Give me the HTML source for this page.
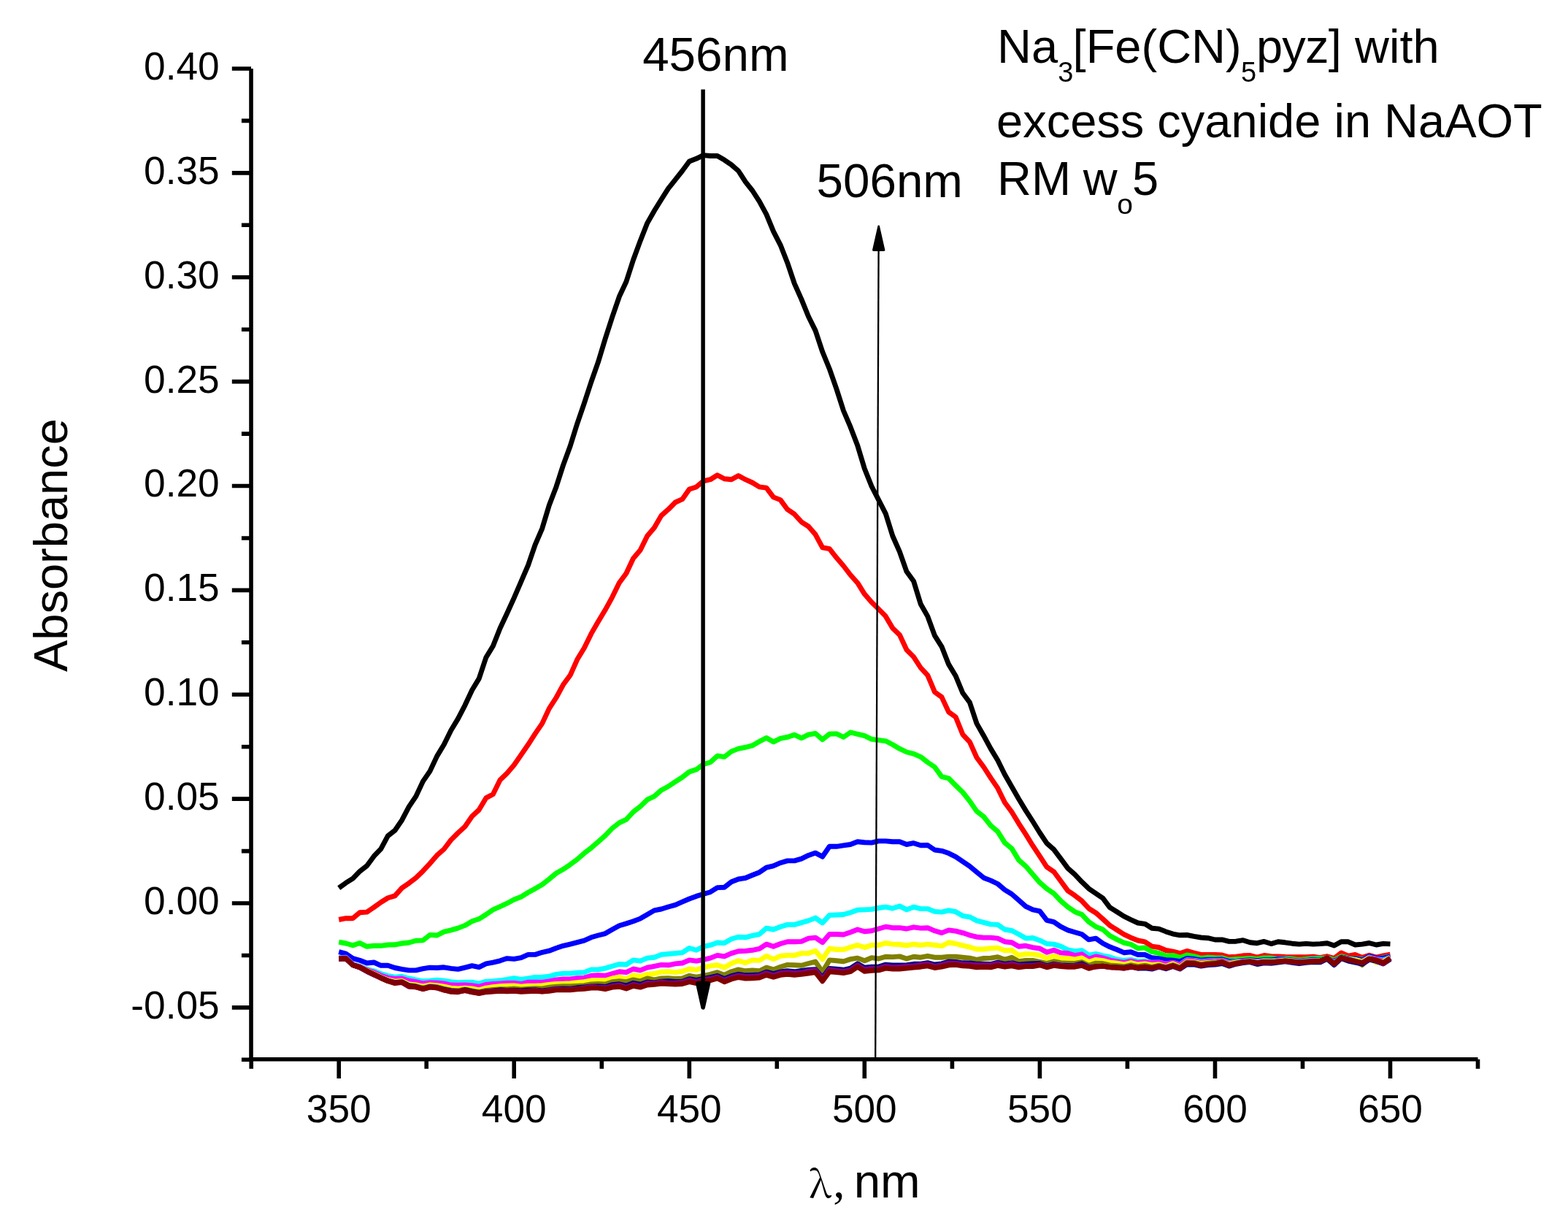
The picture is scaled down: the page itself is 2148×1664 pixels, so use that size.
<!DOCTYPE html>
<html lang="en"><head><meta charset="utf-8"><title>Absorbance spectra</title>
<style>
html,body{margin:0;padding:0;background:#fff}
body{width:2148px;height:1664px;overflow:hidden}
svg{display:block}
text{font-family:"Liberation Sans",Arial,Helvetica,sans-serif;fill:#000}
.tk{font-size:53.2px}
.big{font-size:65px}
.sym{font-family:"Liberation Serif","Times New Roman",serif}
.ax{stroke:#000;stroke-width:5.6;fill:none;stroke-linecap:butt}
.cv{fill:none;stroke-width:6.9;stroke-linejoin:round;stroke-linecap:butt}
</style></head>
<body>
<svg xmlns="http://www.w3.org/2000/svg" width="2148" height="1664" viewBox="0 0 2148 1664">
<rect width="2148" height="1664" fill="#fff"/>
<g id="curves">
<path class="cv" stroke="#000000" d="M464.2,1216.1 L473.8,1209.2 L483.4,1203.1 L493.0,1193.2 L502.6,1185.8 L512.2,1172.7 L521.8,1162.7 L531.4,1144.7 L541.0,1137.2 L550.6,1123.2 L560.2,1104.9 L569.8,1090.6 L579.4,1070.1 L589.0,1056.1 L598.6,1035.6 L608.2,1019.8 L617.8,1000.2 L627.4,984.4 L637.0,965.8 L646.6,945.3 L656.2,929.4 L665.8,900.5 L675.4,884.7 L685.0,860.5 L694.6,840.0 L704.2,818.8 L713.9,796.4 L723.5,774.1 L733.1,746.1 L742.7,723.8 L752.3,692.1 L761.9,666.9 L771.5,637.1 L781.1,611.0 L790.7,580.3 L800.3,552.4 L809.9,523.0 L819.5,495.7 L829.1,464.1 L838.7,434.3 L848.3,406.3 L857.9,385.8 L867.5,356.0 L877.1,329.9 L886.7,305.6 L896.3,288.8 L905.9,273.2 L915.5,258.2 L925.1,246.1 L934.7,234.0 L944.3,221.0 L953.9,217.3 L963.5,212.6 L973.1,213.5 L982.7,213.5 L992.3,219.1 L1001.9,225.6 L1011.5,234.0 L1021.1,248.9 L1030.7,261.0 L1040.3,275.9 L1049.9,293.6 L1059.5,316.9 L1069.1,335.6 L1078.7,359.9 L1088.3,388.4 L1097.9,409.9 L1107.5,433.5 L1117.1,452.9 L1126.7,481.8 L1136.3,505.2 L1145.9,532.6 L1155.5,562.5 L1165.1,584.9 L1174.7,610.1 L1184.3,641.8 L1194.0,666.0 L1203.6,684.6 L1213.2,703.3 L1222.8,734.0 L1232.4,755.7 L1242.0,782.8 L1251.6,796.0 L1261.2,827.2 L1270.8,844.1 L1280.4,870.4 L1290.0,885.6 L1299.6,909.9 L1309.2,925.7 L1318.8,949.0 L1328.4,962.0 L1338.0,990.9 L1347.6,1007.7 L1357.2,1025.4 L1366.8,1041.2 L1376.4,1060.8 L1386.0,1077.5 L1395.6,1094.3 L1405.2,1110.1 L1414.8,1125.0 L1424.4,1140.5 L1434.0,1154.9 L1443.6,1163.4 L1453.2,1176.1 L1462.8,1189.1 L1472.4,1197.6 L1482.0,1207.8 L1491.6,1217.1 L1501.2,1223.6 L1510.8,1230.1 L1520.4,1242.8 L1530.0,1248.8 L1539.6,1254.9 L1549.2,1259.6 L1558.8,1264.0 L1568.4,1265.3 L1578.0,1271.2 L1587.6,1272.1 L1597.2,1275.9 L1606.8,1279.1 L1616.4,1280.8 L1626.0,1280.5 L1635.6,1282.4 L1645.2,1284.0 L1654.8,1284.7 L1664.5,1287.0 L1674.1,1286.9 L1683.7,1289.4 L1693.3,1289.2 L1702.9,1287.7 L1712.5,1290.8 L1722.1,1291.7 L1731.7,1289.4 L1741.3,1292.6 L1750.9,1289.8 L1760.5,1290.8 L1770.1,1292.2 L1779.7,1293.1 L1789.3,1292.4 L1798.9,1293.1 L1808.5,1292.6 L1818.1,1291.7 L1827.7,1295.0 L1837.3,1289.8 L1846.9,1289.8 L1856.5,1294.0 L1866.1,1293.1 L1875.7,1291.5 L1885.3,1294.0 L1894.9,1292.4 L1904.5,1292.9"/>
<path class="cv" stroke="#ff0000" d="M464.2,1259.5 L473.8,1257.7 L483.4,1257.7 L493.0,1249.7 L502.6,1249.1 L512.2,1242.6 L521.8,1235.7 L531.4,1229.7 L541.0,1226.9 L550.6,1216.1 L560.2,1209.6 L569.8,1202.2 L579.4,1192.9 L589.0,1182.6 L598.6,1171.4 L608.2,1163.0 L617.8,1150.4 L627.4,1140.8 L637.0,1132.0 L646.6,1118.0 L656.2,1109.1 L665.8,1092.9 L675.4,1087.8 L685.0,1068.2 L694.6,1058.9 L704.2,1047.7 L713.9,1033.8 L723.5,1019.8 L733.1,1004.9 L742.7,990.9 L752.3,970.4 L761.9,955.5 L771.5,937.8 L781.1,924.8 L790.7,903.3 L800.3,887.5 L809.9,867.9 L819.5,851.2 L829.1,835.3 L838.7,817.8 L848.3,798.3 L857.9,785.2 L867.5,764.7 L877.1,753.6 L886.7,734.0 L896.3,722.8 L905.9,706.1 L915.5,697.7 L925.1,688.0 L934.7,683.7 L944.3,670.1 L953.9,666.9 L963.5,658.9 L973.1,656.7 L982.7,650.7 L992.3,655.8 L1001.9,656.7 L1011.5,651.5 L1021.1,656.7 L1030.7,661.0 L1040.3,666.9 L1049.9,668.2 L1059.5,680.9 L1069.1,684.6 L1078.7,697.7 L1088.3,704.2 L1097.9,714.8 L1107.5,721.0 L1117.1,732.1 L1126.7,749.8 L1136.3,751.7 L1145.9,763.8 L1155.5,775.0 L1165.1,787.5 L1174.7,798.2 L1184.3,813.6 L1194.0,824.7 L1203.6,834.1 L1213.2,843.9 L1222.8,860.3 L1232.4,869.5 L1242.0,890.0 L1251.6,899.6 L1261.2,914.5 L1270.8,924.8 L1280.4,947.7 L1290.0,954.6 L1299.6,975.1 L1309.2,982.0 L1318.8,1005.8 L1328.4,1016.1 L1338.0,1037.5 L1347.6,1050.5 L1357.2,1065.4 L1366.8,1079.4 L1376.4,1099.0 L1386.0,1112.0 L1395.6,1127.8 L1405.2,1142.7 L1414.8,1158.2 L1424.4,1172.7 L1434.0,1187.3 L1443.6,1193.8 L1453.2,1206.8 L1462.8,1219.9 L1472.4,1226.4 L1482.0,1233.8 L1491.6,1244.2 L1501.2,1250.2 L1510.8,1258.6 L1520.4,1267.5 L1530.0,1273.5 L1539.6,1279.6 L1549.2,1284.2 L1558.8,1288.0 L1568.4,1289.8 L1578.0,1296.1 L1587.6,1297.5 L1597.2,1301.5 L1606.8,1303.1 L1616.4,1305.7 L1626.0,1302.4 L1635.6,1305.0 L1645.2,1307.4 L1654.8,1307.4 L1664.5,1307.4 L1674.1,1308.0 L1683.7,1310.8 L1693.3,1310.2 L1702.9,1308.8 L1712.5,1308.5 L1722.1,1311.1 L1731.7,1308.5 L1741.3,1309.7 L1750.9,1309.9 L1760.5,1310.5 L1770.1,1310.8 L1779.7,1310.8 L1789.3,1310.8 L1798.9,1310.2 L1808.5,1311.6 L1818.1,1309.7 L1827.7,1312.5 L1837.3,1305.0 L1846.9,1309.2 L1856.5,1307.5 L1866.1,1311.4 L1875.7,1308.3 L1885.3,1311.1 L1894.9,1308.9 L1904.5,1307.2"/>
<path class="cv" stroke="#00ff00" d="M464.2,1290.1 L473.8,1292.0 L483.4,1294.8 L493.0,1291.6 L502.6,1296.3 L512.2,1295.3 L521.8,1295.3 L531.4,1294.0 L541.0,1293.8 L550.6,1292.0 L560.2,1291.0 L569.8,1288.2 L579.4,1287.9 L589.0,1280.4 L598.6,1281.0 L608.2,1276.1 L617.8,1273.9 L627.4,1271.1 L637.0,1267.4 L646.6,1261.8 L656.2,1258.6 L665.8,1252.5 L675.4,1245.9 L685.0,1241.7 L694.6,1237.2 L704.2,1232.0 L713.9,1228.2 L723.5,1222.3 L733.1,1217.1 L742.7,1211.5 L752.3,1204.0 L761.9,1196.0 L771.5,1190.6 L781.1,1184.1 L790.7,1177.0 L800.3,1168.6 L809.9,1161.2 L819.5,1152.8 L829.1,1144.3 L838.7,1134.4 L848.3,1126.9 L857.9,1122.3 L867.5,1112.0 L877.1,1104.6 L886.7,1095.2 L896.3,1090.6 L905.9,1082.2 L915.5,1077.0 L925.1,1070.6 L934.7,1064.5 L944.3,1057.0 L953.9,1053.9 L963.5,1046.8 L973.1,1044.0 L982.7,1035.2 L992.3,1036.6 L1001.9,1029.1 L1011.5,1025.4 L1021.1,1023.5 L1030.7,1021.1 L1040.3,1015.5 L1049.9,1010.5 L1059.5,1016.1 L1069.1,1011.4 L1078.7,1009.5 L1088.3,1006.4 L1097.9,1010.8 L1107.5,1006.2 L1117.1,1004.5 L1126.7,1012.9 L1136.3,1005.3 L1145.9,1004.9 L1155.5,1009.5 L1165.1,1003.0 L1174.7,1005.4 L1184.3,1007.7 L1194.0,1012.3 L1203.6,1013.6 L1213.2,1014.8 L1222.8,1019.8 L1232.4,1025.4 L1242.0,1030.0 L1251.6,1032.3 L1261.2,1036.6 L1270.8,1044.0 L1280.4,1050.5 L1290.0,1063.6 L1299.6,1066.0 L1309.2,1075.7 L1318.8,1085.0 L1328.4,1097.1 L1338.0,1111.1 L1347.6,1118.5 L1357.2,1130.6 L1366.8,1138.8 L1376.4,1154.1 L1386.0,1162.1 L1395.6,1177.9 L1405.2,1186.3 L1414.8,1197.5 L1424.4,1208.7 L1434.0,1217.1 L1443.6,1223.6 L1453.2,1233.8 L1462.8,1242.2 L1472.4,1248.7 L1482.0,1252.5 L1491.6,1262.7 L1501.2,1269.2 L1510.8,1273.0 L1520.4,1281.5 L1530.0,1286.6 L1539.6,1291.2 L1549.2,1293.3 L1558.8,1298.7 L1568.4,1297.9 L1578.0,1303.4 L1587.6,1305.4 L1597.2,1308.9 L1606.8,1308.4 L1616.4,1311.4 L1626.0,1308.0 L1635.6,1309.6 L1645.2,1312.4 L1654.8,1311.2 L1664.5,1311.7 L1674.1,1311.9 L1683.7,1314.7 L1693.3,1313.8 L1702.9,1313.3 L1712.5,1312.4 L1722.1,1313.6 L1731.7,1311.9 L1741.3,1311.9 L1750.9,1313.3 L1760.5,1312.7 L1770.1,1313.3 L1779.7,1314.7 L1789.3,1313.6 L1798.9,1312.7 L1808.5,1312.7 L1818.1,1311.6 L1827.7,1315.0 L1837.3,1309.7 L1846.9,1312.2 L1856.5,1312.7 L1866.1,1314.1 L1875.7,1311.0 L1885.3,1312.7 L1894.9,1311.6 L1904.5,1310.0"/>
<path class="cv" stroke="#0000ff" d="M464.2,1303.7 L473.8,1306.1 L483.4,1312.6 L493.0,1315.3 L502.6,1319.0 L512.2,1318.0 L521.8,1322.3 L531.4,1322.3 L541.0,1325.5 L550.6,1327.4 L560.2,1328.9 L569.8,1328.9 L579.4,1326.6 L589.0,1325.1 L598.6,1325.5 L608.2,1324.8 L617.8,1326.4 L627.4,1327.4 L637.0,1325.1 L646.6,1322.7 L656.2,1324.6 L665.8,1319.9 L675.4,1318.2 L685.0,1315.8 L694.6,1312.6 L704.2,1313.4 L713.9,1311.7 L723.5,1307.4 L733.1,1307.4 L742.7,1304.3 L752.3,1302.2 L761.9,1298.5 L771.5,1295.3 L781.1,1293.1 L790.7,1290.7 L800.3,1288.2 L809.9,1283.8 L819.5,1281.0 L829.1,1278.6 L838.7,1273.0 L848.3,1267.7 L857.9,1264.9 L867.5,1261.8 L877.1,1258.1 L886.7,1252.6 L896.3,1246.9 L905.9,1245.0 L915.5,1242.0 L925.1,1239.4 L934.7,1235.1 L944.3,1231.0 L953.9,1227.4 L963.5,1224.5 L973.1,1221.7 L982.7,1215.6 L992.3,1215.2 L1001.9,1207.8 L1011.5,1204.0 L1021.1,1202.5 L1030.7,1198.5 L1040.3,1194.7 L1049.9,1188.2 L1059.5,1185.8 L1069.1,1181.7 L1078.7,1178.9 L1088.3,1178.9 L1097.9,1176.1 L1107.5,1171.4 L1117.1,1168.1 L1126.7,1173.3 L1136.3,1159.3 L1145.9,1159.3 L1155.5,1157.9 L1165.1,1156.5 L1174.7,1152.8 L1184.3,1153.7 L1194.0,1154.1 L1203.6,1151.9 L1213.2,1151.9 L1222.8,1152.8 L1232.4,1152.8 L1242.0,1156.5 L1251.6,1154.7 L1261.2,1157.8 L1270.8,1157.5 L1280.4,1164.0 L1290.0,1165.3 L1299.6,1168.6 L1309.2,1173.3 L1318.8,1179.8 L1328.4,1186.3 L1338.0,1194.3 L1347.6,1202.2 L1357.2,1205.9 L1366.8,1210.5 L1376.4,1218.6 L1386.0,1224.5 L1395.6,1232.9 L1405.2,1241.3 L1414.8,1245.9 L1424.4,1247.8 L1434.0,1260.3 L1443.6,1262.7 L1453.2,1269.2 L1462.8,1273.9 L1472.4,1276.7 L1482.0,1279.5 L1491.6,1286.9 L1501.2,1285.1 L1510.8,1292.0 L1520.4,1296.8 L1530.0,1300.5 L1539.6,1304.7 L1549.2,1303.8 L1558.8,1307.5 L1568.4,1307.5 L1578.0,1311.8 L1587.6,1312.8 L1597.2,1314.7 L1606.8,1315.2 L1616.4,1316.6 L1626.0,1312.4 L1635.6,1313.3 L1645.2,1315.2 L1654.8,1314.2 L1664.5,1314.2 L1674.1,1313.8 L1683.7,1316.6 L1693.3,1316.4 L1702.9,1315.5 L1712.5,1314.7 L1722.1,1315.5 L1731.7,1314.7 L1741.3,1314.7 L1750.9,1313.8 L1760.5,1313.8 L1770.1,1315.0 L1779.7,1316.1 L1789.3,1315.2 L1798.9,1314.1 L1808.5,1314.7 L1818.1,1312.7 L1827.7,1316.6 L1837.3,1311.0 L1846.9,1312.7 L1856.5,1313.0 L1866.1,1315.0 L1875.7,1309.6 L1885.3,1312.2 L1894.9,1312.2 L1904.5,1310.0"/>
<path class="cv" stroke="#00ffff" d="M464.2,1311.7 L473.8,1311.3 L483.4,1320.5 L493.0,1323.3 L502.6,1327.4 L512.2,1329.8 L521.8,1333.5 L531.4,1336.3 L541.0,1338.2 L550.6,1337.2 L560.2,1340.0 L569.8,1341.9 L579.4,1343.8 L589.0,1343.2 L598.6,1342.3 L608.2,1343.2 L617.8,1344.7 L627.4,1345.6 L637.0,1345.1 L646.6,1345.2 L656.2,1347.1 L665.8,1344.1 L675.4,1343.8 L685.0,1342.8 L694.6,1341.5 L704.2,1339.7 L713.9,1341.3 L723.5,1340.0 L733.1,1338.5 L742.7,1338.2 L752.3,1337.2 L761.9,1334.4 L771.5,1333.1 L781.1,1333.1 L790.7,1332.2 L800.3,1331.6 L809.9,1327.9 L819.5,1327.9 L829.1,1326.1 L838.7,1323.3 L848.3,1320.5 L857.9,1321.0 L867.5,1314.9 L877.1,1316.2 L886.7,1312.1 L896.3,1311.2 L905.9,1307.4 L915.5,1306.5 L925.1,1305.6 L934.7,1304.6 L944.3,1298.5 L953.9,1301.3 L963.5,1296.3 L973.1,1294.4 L982.7,1291.0 L992.3,1291.6 L1001.9,1286.0 L1011.5,1283.2 L1021.1,1283.8 L1030.7,1281.3 L1040.3,1279.5 L1049.9,1271.1 L1059.5,1273.0 L1069.1,1269.2 L1078.7,1266.4 L1088.3,1266.4 L1097.9,1263.6 L1107.5,1260.9 L1117.1,1257.1 L1126.7,1264.0 L1136.3,1253.4 L1145.9,1253.0 L1155.5,1252.5 L1165.1,1249.7 L1174.7,1246.3 L1184.3,1245.9 L1194.0,1245.4 L1203.6,1243.5 L1213.2,1242.2 L1222.8,1244.1 L1232.4,1240.9 L1242.0,1245.9 L1251.6,1242.2 L1261.2,1244.6 L1270.8,1244.6 L1280.4,1248.4 L1290.0,1249.1 L1299.6,1246.9 L1309.2,1248.7 L1318.8,1254.3 L1328.4,1255.8 L1338.0,1260.9 L1347.6,1263.3 L1357.2,1265.9 L1366.8,1266.4 L1376.4,1273.0 L1386.0,1274.5 L1395.6,1279.5 L1405.2,1285.1 L1414.8,1284.5 L1424.4,1287.9 L1434.0,1292.5 L1443.6,1293.1 L1453.2,1296.1 L1462.8,1300.8 L1472.4,1302.6 L1482.0,1301.7 L1491.6,1308.2 L1501.2,1306.4 L1510.8,1308.8 L1520.4,1310.7 L1530.0,1313.9 L1539.6,1315.3 L1549.2,1314.4 L1558.8,1316.7 L1568.4,1316.3 L1578.0,1318.3 L1587.6,1317.9 L1597.2,1320.2 L1606.8,1318.3 L1616.4,1321.1 L1626.0,1314.6 L1635.6,1315.1 L1645.2,1316.9 L1654.8,1316.0 L1664.5,1315.5 L1674.1,1315.1 L1683.7,1318.3 L1693.3,1317.0 L1702.9,1316.4 L1712.5,1315.6 L1722.1,1316.8 L1731.7,1315.8 L1741.3,1315.9 L1750.9,1315.2 L1760.5,1314.6 L1770.1,1315.7 L1779.7,1316.9 L1789.3,1316.0 L1798.9,1315.2 L1808.5,1315.3 L1818.1,1312.5 L1827.7,1318.0 L1837.3,1311.3 L1846.9,1313.4 L1856.5,1314.4 L1866.1,1316.5 L1875.7,1311.0 L1885.3,1313.3 L1894.9,1315.0 L1904.5,1311.1"/>
<path class="cv" stroke="#ff00ff" d="M464.2,1312.1 L473.8,1311.7 L483.4,1321.0 L493.0,1323.8 L502.6,1328.5 L512.2,1331.6 L521.8,1335.9 L531.4,1339.1 L541.0,1340.4 L550.6,1340.0 L560.2,1343.2 L569.8,1344.7 L579.4,1346.9 L589.0,1345.6 L598.6,1346.0 L608.2,1346.9 L617.8,1349.0 L627.4,1349.3 L637.0,1349.0 L646.6,1349.7 L656.2,1351.2 L665.8,1348.4 L675.4,1347.5 L685.0,1346.9 L694.6,1346.2 L704.2,1346.2 L713.9,1347.5 L723.5,1345.2 L733.1,1345.2 L742.7,1345.2 L752.3,1343.8 L761.9,1341.9 L771.5,1341.0 L781.1,1341.0 L790.7,1339.7 L800.3,1339.1 L809.9,1336.3 L819.5,1335.7 L829.1,1336.3 L838.7,1333.5 L848.3,1330.7 L857.9,1331.6 L867.5,1327.0 L877.1,1328.9 L886.7,1325.1 L896.3,1323.3 L905.9,1321.4 L915.5,1321.8 L925.1,1319.9 L934.7,1319.0 L944.3,1314.9 L953.9,1316.2 L963.5,1314.3 L973.1,1312.1 L982.7,1308.4 L992.3,1309.9 L1001.9,1305.6 L1011.5,1302.8 L1021.1,1302.4 L1030.7,1301.3 L1040.3,1299.4 L1049.9,1293.1 L1059.5,1296.3 L1069.1,1292.5 L1078.7,1289.7 L1088.3,1289.7 L1097.9,1289.4 L1107.5,1285.1 L1117.1,1284.1 L1126.7,1290.7 L1136.3,1279.5 L1145.9,1279.5 L1155.5,1280.0 L1165.1,1276.7 L1174.7,1273.0 L1184.3,1275.8 L1194.0,1274.8 L1203.6,1272.0 L1213.2,1269.2 L1222.8,1270.7 L1232.4,1270.7 L1242.0,1272.0 L1251.6,1269.8 L1261.2,1271.1 L1270.8,1270.7 L1280.4,1274.8 L1290.0,1277.6 L1299.6,1273.9 L1309.2,1275.2 L1318.8,1277.6 L1328.4,1280.8 L1338.0,1283.2 L1347.6,1284.1 L1357.2,1284.1 L1366.8,1285.1 L1376.4,1289.7 L1386.0,1290.7 L1395.6,1296.3 L1405.2,1295.3 L1414.8,1297.6 L1424.4,1299.0 L1434.0,1304.3 L1443.6,1301.3 L1453.2,1304.9 L1462.8,1305.5 L1472.4,1308.6 L1482.0,1306.8 L1491.6,1313.3 L1501.2,1309.9 L1510.8,1311.8 L1520.4,1314.8 L1530.0,1316.7 L1539.6,1318.1 L1549.2,1316.2 L1558.8,1318.5 L1568.4,1317.6 L1578.0,1318.6 L1587.6,1318.1 L1597.2,1320.2 L1606.8,1318.3 L1616.4,1321.4 L1626.0,1315.3 L1635.6,1315.8 L1645.2,1317.7 L1654.8,1316.7 L1664.5,1316.1 L1674.1,1315.5 L1683.7,1319.1 L1693.3,1317.5 L1702.9,1316.8 L1712.5,1315.9 L1722.1,1317.3 L1731.7,1316.2 L1741.3,1316.4 L1750.9,1315.7 L1760.5,1315.0 L1770.1,1316.0 L1779.7,1317.2 L1789.3,1316.4 L1798.9,1315.6 L1808.5,1315.5 L1818.1,1312.4 L1827.7,1318.5 L1837.3,1311.4 L1846.9,1313.7 L1856.5,1314.9 L1866.1,1317.0 L1875.7,1311.5 L1885.3,1313.7 L1894.9,1316.0 L1904.5,1311.5"/>
<path class="cv" stroke="#ffff00" d="M464.2,1312.8 L473.8,1312.5 L483.4,1321.8 L493.0,1324.6 L502.6,1329.4 L512.2,1333.5 L521.8,1338.2 L531.4,1341.9 L541.0,1344.1 L550.6,1343.4 L560.2,1347.9 L569.8,1349.0 L579.4,1350.8 L589.0,1349.0 L598.6,1349.7 L608.2,1351.2 L617.8,1353.1 L627.4,1354.0 L637.0,1353.1 L646.6,1354.0 L656.2,1355.9 L665.8,1353.1 L675.4,1351.6 L685.0,1350.8 L694.6,1350.3 L704.2,1349.9 L713.9,1351.2 L723.5,1350.3 L733.1,1350.3 L742.7,1349.7 L752.3,1348.4 L761.9,1347.5 L771.5,1347.1 L781.1,1346.6 L790.7,1345.6 L800.3,1344.7 L809.9,1342.8 L819.5,1342.8 L829.1,1342.8 L838.7,1340.0 L848.3,1338.2 L857.9,1341.0 L867.5,1335.7 L877.1,1337.2 L886.7,1334.4 L896.3,1333.5 L905.9,1331.1 L915.5,1330.7 L925.1,1331.6 L934.7,1330.3 L944.3,1327.0 L953.9,1328.3 L963.5,1325.1 L973.1,1322.9 L982.7,1321.8 L992.3,1325.1 L1001.9,1319.5 L1011.5,1315.8 L1021.1,1318.6 L1030.7,1314.9 L1040.3,1315.4 L1049.9,1309.3 L1059.5,1313.6 L1069.1,1309.3 L1078.7,1308.4 L1088.3,1308.4 L1097.9,1305.6 L1107.5,1305.6 L1117.1,1302.2 L1126.7,1313.9 L1136.3,1299.0 L1145.9,1300.5 L1155.5,1300.5 L1165.1,1297.2 L1174.7,1294.4 L1184.3,1297.6 L1194.0,1294.4 L1203.6,1294.4 L1213.2,1291.6 L1222.8,1293.1 L1232.4,1293.5 L1242.0,1294.9 L1251.6,1293.1 L1261.2,1294.4 L1270.8,1293.1 L1280.4,1294.4 L1290.0,1295.7 L1299.6,1290.7 L1309.2,1292.5 L1318.8,1294.9 L1328.4,1297.2 L1338.0,1300.0 L1347.6,1300.0 L1357.2,1298.7 L1366.8,1298.1 L1376.4,1301.8 L1386.0,1301.3 L1395.6,1308.4 L1405.2,1306.5 L1414.8,1306.9 L1424.4,1308.4 L1434.0,1312.5 L1443.6,1309.3 L1453.2,1312.1 L1462.8,1312.4 L1472.4,1313.9 L1482.0,1312.0 L1491.6,1317.6 L1501.2,1314.3 L1510.8,1315.7 L1520.4,1318.2 L1530.0,1319.1 L1539.6,1321.0 L1549.2,1318.7 L1558.8,1321.0 L1568.4,1319.9 L1578.0,1321.6 L1587.6,1320.7 L1597.2,1323.5 L1606.8,1319.8 L1616.4,1324.0 L1626.0,1317.0 L1635.6,1317.5 L1645.2,1319.3 L1654.8,1318.4 L1664.5,1317.6 L1674.1,1316.9 L1683.7,1320.2 L1693.3,1318.0 L1702.9,1317.1 L1712.5,1316.2 L1722.1,1317.7 L1731.7,1316.6 L1741.3,1316.8 L1750.9,1316.2 L1760.5,1315.2 L1770.1,1316.3 L1779.7,1317.4 L1789.3,1316.6 L1798.9,1316.0 L1808.5,1315.7 L1818.1,1312.4 L1827.7,1319.0 L1837.3,1311.5 L1846.9,1313.6 L1856.5,1314.4 L1866.1,1317.5 L1875.7,1312.0 L1885.3,1318.0 L1894.9,1316.9 L1904.5,1311.8"/>
<path class="cv" stroke="#808000" d="M464.2,1313.0 L473.8,1312.5 L483.4,1321.8 L493.0,1324.6 L502.6,1329.8 L512.2,1334.1 L521.8,1338.9 L531.4,1343.0 L541.0,1345.6 L550.6,1344.5 L560.2,1349.5 L569.8,1350.5 L579.4,1353.1 L589.0,1350.8 L598.6,1351.6 L608.2,1354.0 L617.8,1356.1 L627.4,1356.8 L637.0,1354.9 L646.6,1356.8 L656.2,1358.7 L665.8,1356.4 L675.4,1355.5 L685.0,1354.6 L694.6,1354.6 L704.2,1354.0 L713.9,1354.9 L723.5,1354.2 L733.1,1353.8 L742.7,1354.0 L752.3,1352.1 L761.9,1351.2 L771.5,1350.8 L781.1,1350.8 L790.7,1350.3 L800.3,1349.7 L809.9,1347.9 L819.5,1347.5 L829.1,1347.9 L838.7,1344.7 L848.3,1343.8 L857.9,1344.7 L867.5,1341.9 L877.1,1343.8 L886.7,1340.0 L896.3,1341.9 L905.9,1340.0 L915.5,1339.7 L925.1,1340.4 L934.7,1340.0 L944.3,1336.3 L953.9,1338.2 L963.5,1336.3 L973.1,1334.4 L982.7,1331.6 L992.3,1335.4 L1001.9,1330.7 L1011.5,1327.9 L1021.1,1329.8 L1030.7,1328.9 L1040.3,1329.8 L1049.9,1325.1 L1059.5,1327.9 L1069.1,1324.2 L1078.7,1321.4 L1088.3,1321.8 L1097.9,1322.3 L1107.5,1319.5 L1117.1,1317.1 L1126.7,1331.3 L1136.3,1314.9 L1145.9,1315.8 L1155.5,1316.7 L1165.1,1313.6 L1174.7,1312.1 L1184.3,1315.8 L1194.0,1311.7 L1203.6,1313.0 L1213.2,1310.2 L1222.8,1310.6 L1232.4,1309.9 L1242.0,1313.0 L1251.6,1310.2 L1261.2,1311.2 L1270.8,1309.3 L1280.4,1311.2 L1290.0,1311.2 L1299.6,1310.2 L1309.2,1310.2 L1318.8,1311.2 L1328.4,1312.1 L1338.0,1314.3 L1347.6,1312.5 L1357.2,1312.1 L1366.8,1310.6 L1376.4,1314.3 L1386.0,1311.2 L1395.6,1316.7 L1405.2,1315.4 L1414.8,1315.4 L1424.4,1317.3 L1434.0,1319.5 L1443.6,1316.7 L1453.2,1318.6 L1462.8,1319.1 L1472.4,1319.5 L1482.0,1317.6 L1491.6,1322.3 L1501.2,1319.1 L1510.8,1319.5 L1520.4,1321.9 L1530.0,1322.7 L1539.6,1323.8 L1549.2,1321.7 L1558.8,1323.6 L1568.4,1322.1 L1578.0,1324.3 L1587.6,1322.0 L1597.2,1324.3 L1606.8,1321.5 L1616.4,1324.8 L1626.0,1317.8 L1635.6,1318.2 L1645.2,1320.6 L1654.8,1319.2 L1664.5,1318.2 L1674.1,1316.7 L1683.7,1320.9 L1693.3,1318.9 L1702.9,1317.4 L1712.5,1316.5 L1722.1,1318.2 L1731.7,1317.1 L1741.3,1317.3 L1750.9,1316.8 L1760.5,1315.6 L1770.1,1316.6 L1779.7,1317.8 L1789.3,1317.0 L1798.9,1316.4 L1808.5,1316.0 L1818.1,1312.3 L1827.7,1319.6 L1837.3,1311.6 L1846.9,1314.2 L1856.5,1315.9 L1866.1,1321.6 L1875.7,1312.6 L1885.3,1314.6 L1894.9,1318.1 L1904.5,1312.3"/>
<path class="cv" stroke="#000080" d="M464.2,1313.2 L473.8,1312.8 L483.4,1321.6 L493.0,1324.7 L502.6,1330.4 L512.2,1334.9 L521.8,1338.9 L531.4,1343.2 L541.0,1345.7 L550.6,1344.9 L560.2,1349.8 L569.8,1351.2 L579.4,1354.2 L589.0,1351.4 L598.6,1352.5 L608.2,1355.2 L617.8,1356.8 L627.4,1358.0 L637.0,1355.6 L646.6,1357.8 L656.2,1359.5 L665.8,1358.0 L675.4,1357.0 L685.0,1355.8 L694.6,1356.5 L704.2,1356.2 L713.9,1356.6 L723.5,1355.9 L733.1,1355.6 L742.7,1356.9 L752.3,1355.7 L761.9,1354.1 L771.5,1354.0 L781.1,1354.1 L790.7,1352.8 L800.3,1351.9 L809.9,1351.0 L819.5,1350.7 L829.1,1351.5 L838.7,1348.6 L848.3,1347.8 L857.9,1349.9 L867.5,1346.3 L877.1,1348.2 L886.7,1345.0 L896.3,1346.0 L905.9,1344.1 L915.5,1343.8 L925.1,1344.4 L934.7,1344.2 L944.3,1340.7 L953.9,1342.5 L963.5,1340.5 L973.1,1338.7 L982.7,1336.3 L992.3,1340.4 L1001.9,1336.7 L1011.5,1334.3 L1021.1,1335.8 L1030.7,1335.4 L1040.3,1334.9 L1049.9,1331.1 L1059.5,1333.5 L1069.1,1331.0 L1078.7,1329.7 L1088.3,1330.8 L1097.9,1329.4 L1107.5,1328.1 L1117.1,1327.7 L1126.7,1338.9 L1136.3,1326.4 L1145.9,1327.3 L1155.5,1328.3 L1165.1,1326.2 L1174.7,1319.8 L1184.3,1325.3 L1194.0,1324.2 L1203.6,1324.0 L1213.2,1321.1 L1222.8,1322.0 L1232.4,1322.0 L1242.0,1321.6 L1251.6,1320.3 L1261.2,1320.2 L1270.8,1318.6 L1280.4,1321.0 L1290.0,1319.9 L1299.6,1317.0 L1309.2,1317.4 L1318.8,1318.8 L1328.4,1319.0 L1338.0,1320.2 L1347.6,1320.1 L1357.2,1320.5 L1366.8,1318.0 L1376.4,1320.3 L1386.0,1318.6 L1395.6,1321.1 L1405.2,1320.1 L1414.8,1319.7 L1424.4,1319.5 L1434.0,1322.8 L1443.6,1320.3 L1453.2,1322.0 L1462.8,1322.4 L1472.4,1322.2 L1482.0,1319.8 L1491.6,1324.6 L1501.2,1323.9 L1510.8,1323.2 L1520.4,1324.5 L1530.0,1324.9 L1539.6,1325.5 L1549.2,1323.6 L1558.8,1326.3 L1568.4,1325.9 L1578.0,1327.1 L1587.6,1324.1 L1597.2,1326.8 L1606.8,1323.6 L1616.4,1327.0 L1626.0,1320.7 L1635.6,1321.0 L1645.2,1323.1 L1654.8,1321.5 L1664.5,1321.0 L1674.1,1319.5 L1683.7,1323.1 L1693.3,1320.3 L1702.9,1318.5 L1712.5,1317.6 L1722.1,1320.5 L1731.7,1318.8 L1741.3,1319.4 L1750.9,1318.1 L1760.5,1316.8 L1770.1,1318.3 L1779.7,1319.7 L1789.3,1318.3 L1798.9,1317.5 L1808.5,1317.8 L1818.1,1313.1 L1827.7,1321.6 L1837.3,1312.5 L1846.9,1316.0 L1856.5,1318.0 L1866.1,1320.2 L1875.7,1314.2 L1885.3,1316.5 L1894.9,1319.9 L1904.5,1313.6"/>
<path class="cv" stroke="#800080" d="M464.2,1313.1 L473.8,1313.1 L483.4,1321.5 L493.0,1325.2 L502.6,1330.3 L512.2,1335.1 L521.8,1339.3 L531.4,1343.3 L541.0,1346.1 L550.6,1345.6 L560.2,1351.3 L569.8,1351.9 L579.4,1354.3 L589.0,1351.7 L598.6,1353.0 L608.2,1356.0 L617.8,1357.4 L627.4,1358.0 L637.0,1356.6 L646.6,1358.8 L656.2,1360.0 L665.8,1358.0 L675.4,1357.5 L685.0,1356.9 L694.6,1356.6 L704.2,1357.0 L713.9,1357.6 L723.5,1357.4 L733.1,1356.1 L742.7,1357.8 L752.3,1356.5 L761.9,1354.7 L771.5,1355.1 L781.1,1355.0 L790.7,1354.4 L800.3,1352.8 L809.9,1351.3 L819.5,1352.1 L829.1,1352.8 L838.7,1350.5 L848.3,1349.1 L857.9,1352.4 L867.5,1348.3 L877.1,1350.6 L886.7,1346.3 L896.3,1346.9 L905.9,1344.9 L915.5,1346.2 L925.1,1346.2 L934.7,1345.2 L944.3,1342.2 L953.9,1344.7 L963.5,1341.5 L973.1,1340.5 L982.7,1338.0 L992.3,1342.5 L1001.9,1338.7 L1011.5,1336.2 L1021.1,1337.5 L1030.7,1337.4 L1040.3,1336.5 L1049.9,1332.7 L1059.5,1336.1 L1069.1,1332.5 L1078.7,1331.6 L1088.3,1332.6 L1097.9,1332.0 L1107.5,1329.9 L1117.1,1328.6 L1126.7,1341.3 L1136.3,1327.8 L1145.9,1329.4 L1155.5,1330.5 L1165.1,1328.4 L1174.7,1322.0 L1184.3,1327.8 L1194.0,1326.2 L1203.6,1326.3 L1213.2,1323.4 L1222.8,1324.7 L1232.4,1324.1 L1242.0,1323.3 L1251.6,1323.1 L1261.2,1321.4 L1270.8,1320.3 L1280.4,1323.6 L1290.0,1321.5 L1299.6,1318.9 L1309.2,1319.2 L1318.8,1320.5 L1328.4,1321.0 L1338.0,1321.7 L1347.6,1321.6 L1357.2,1321.7 L1366.8,1319.6 L1376.4,1322.1 L1386.0,1319.9 L1395.6,1322.6 L1405.2,1322.4 L1414.8,1322.4 L1424.4,1320.8 L1434.0,1323.9 L1443.6,1321.3 L1453.2,1322.4 L1462.8,1323.5 L1472.4,1322.7 L1482.0,1321.7 L1491.6,1324.9 L1501.2,1324.1 L1510.8,1323.3 L1520.4,1324.6 L1530.0,1325.3 L1539.6,1326.0 L1549.2,1324.5 L1558.8,1325.1 L1568.4,1324.2 L1578.0,1326.1 L1587.6,1323.9 L1597.2,1325.3 L1606.8,1322.5 L1616.4,1326.6 L1626.0,1318.9 L1635.6,1319.0 L1645.2,1322.2 L1654.8,1320.4 L1664.5,1319.9 L1674.1,1317.7 L1683.7,1321.9 L1693.3,1319.5 L1702.9,1317.5 L1712.5,1317.3 L1722.1,1318.9 L1731.7,1317.8 L1741.3,1318.2 L1750.9,1316.9 L1760.5,1316.4 L1770.1,1317.3 L1779.7,1318.0 L1789.3,1317.4 L1798.9,1316.3 L1808.5,1316.5 L1818.1,1311.7 L1827.7,1320.1 L1837.3,1311.2 L1846.9,1313.9 L1856.5,1316.5 L1866.1,1318.7 L1875.7,1313.3 L1885.3,1315.3 L1894.9,1319.8 L1904.5,1312.1"/>
<path class="cv" stroke="#800000" d="M464.2,1313.0 L473.8,1312.5 L483.4,1321.8 L493.0,1324.6 L502.6,1329.8 L512.2,1334.4 L521.8,1339.5 L531.4,1343.8 L541.0,1346.6 L550.6,1345.2 L560.2,1350.8 L569.8,1351.8 L579.4,1354.6 L589.0,1352.1 L598.6,1352.7 L608.2,1355.9 L617.8,1358.3 L627.4,1358.7 L637.0,1356.4 L646.6,1358.7 L656.2,1360.5 L665.8,1358.7 L675.4,1358.1 L685.0,1357.4 L694.6,1357.7 L704.2,1357.2 L713.9,1358.3 L723.5,1357.7 L733.1,1357.2 L742.7,1358.1 L752.3,1357.4 L761.9,1355.9 L771.5,1355.5 L781.1,1355.9 L790.7,1354.9 L800.3,1354.4 L809.9,1353.1 L819.5,1353.1 L829.1,1354.6 L838.7,1352.1 L848.3,1351.2 L857.9,1354.0 L867.5,1350.3 L877.1,1352.1 L886.7,1349.0 L896.3,1348.4 L905.9,1347.1 L915.5,1347.5 L925.1,1348.0 L934.7,1347.5 L944.3,1344.7 L953.9,1346.6 L963.5,1343.8 L973.1,1342.8 L982.7,1340.0 L992.3,1344.7 L1001.9,1341.0 L1011.5,1338.5 L1021.1,1340.0 L1030.7,1339.7 L1040.3,1339.1 L1049.9,1335.4 L1059.5,1338.2 L1069.1,1335.4 L1078.7,1334.4 L1088.3,1335.4 L1097.9,1334.4 L1107.5,1333.0 L1117.1,1331.6 L1126.7,1343.8 L1136.3,1330.7 L1145.9,1331.6 L1155.5,1332.6 L1165.1,1330.7 L1174.7,1324.2 L1184.3,1330.3 L1194.0,1329.2 L1203.6,1328.9 L1213.2,1326.1 L1222.8,1327.0 L1232.4,1327.0 L1242.0,1326.1 L1251.6,1325.1 L1261.2,1324.2 L1270.8,1322.9 L1280.4,1325.5 L1290.0,1324.2 L1299.6,1321.8 L1309.2,1321.4 L1318.8,1322.9 L1328.4,1323.3 L1338.0,1324.8 L1347.6,1324.2 L1357.2,1324.8 L1366.8,1322.3 L1376.4,1324.2 L1386.0,1322.9 L1395.6,1324.8 L1405.2,1323.6 L1414.8,1323.6 L1424.4,1321.8 L1434.0,1324.8 L1443.6,1322.3 L1453.2,1323.5 L1462.8,1324.2 L1472.4,1324.2 L1482.0,1322.3 L1491.6,1326.4 L1501.2,1323.6 L1510.8,1323.1 L1520.4,1324.7 L1530.0,1325.1 L1539.6,1326.1 L1549.2,1324.2 L1558.8,1325.6 L1568.4,1324.2 L1578.0,1325.7 L1587.6,1323.4 L1597.2,1325.7 L1606.8,1322.9 L1616.4,1326.2 L1626.0,1319.2 L1635.6,1319.6 L1645.2,1322.0 L1654.8,1320.6 L1664.5,1319.6 L1674.1,1317.8 L1683.7,1322.0 L1693.3,1319.6 L1702.9,1317.8 L1712.5,1316.9 L1722.1,1318.7 L1731.7,1317.5 L1741.3,1317.8 L1750.9,1317.3 L1760.5,1315.9 L1770.1,1316.9 L1779.7,1318.1 L1789.3,1317.3 L1798.9,1316.9 L1808.5,1316.2 L1818.1,1312.2 L1827.7,1320.1 L1837.3,1311.7 L1846.9,1314.5 L1856.5,1316.4 L1866.1,1318.7 L1875.7,1313.1 L1885.3,1315.0 L1894.9,1319.2 L1904.5,1312.7"/>
</g>
<g id="arrows" stroke="#000" fill="#000" stroke-linejoin="round">
<line x1="963.1" y1="122.6" x2="963.1" y2="1350" stroke-width="5.5"/>
<path d="M955.75,1346.9 L970.45,1346.9 L963.1,1379.8 Z" stroke-width="5.6"/>
<line x1="1203.6" y1="340" x2="1199.2" y2="1449" stroke-width="2.3"/>
<path d="M1196.3,342.6 L1211.1,342.6 L1203.7,309.7 Z" stroke-width="2.6"/>
</g>
<g id="axes" class="ax">
<path d="M344.0,94.0 V1453.6"/>
<path d="M341.2,1450.8 H2024.5"/>
<path d="M344.0,94.0 H317.8 M344.0,165.4 H330.9 M344.0,236.9 H317.8 M344.0,308.3 H330.9 M344.0,379.8 H317.8 M344.0,451.2 H330.9 M344.0,522.6 H317.8 M344.0,594.1 H330.9 M344.0,665.5 H317.8 M344.0,737.0 H330.9 M344.0,808.4 H317.8 M344.0,879.8 H330.9 M344.0,951.3 H317.8 M344.0,1022.7 H330.9 M344.0,1094.1 H317.8 M344.0,1165.6 H330.9 M344.0,1237.0 H317.8 M344.0,1308.5 H330.9 M344.0,1379.9 H317.8 M344.0,1451.3 H330.9 M344.2,1450.8 V1463.8 M464.2,1450.8 V1476.9 M584.2,1450.8 V1463.8 M704.2,1450.8 V1476.9 M824.3,1450.8 V1463.8 M944.3,1450.8 V1476.9 M1064.3,1450.8 V1463.8 M1184.3,1450.8 V1476.9 M1304.4,1450.8 V1463.8 M1424.4,1450.8 V1476.9 M1544.4,1450.8 V1463.8 M1664.5,1450.8 V1476.9 M1784.5,1450.8 V1463.8 M1904.5,1450.8 V1476.9 M2024.5,1450.8 V1463.8"/>
</g>
<g id="ylabels" class="tk" text-anchor="end">
<text x="300.6" y="108.9">0.40</text>
<text x="300.6" y="251.8">0.35</text>
<text x="300.6" y="394.7">0.30</text>
<text x="300.6" y="537.5">0.25</text>
<text x="300.6" y="680.4">0.20</text>
<text x="300.6" y="823.3">0.15</text>
<text x="300.6" y="966.2">0.10</text>
<text x="300.6" y="1109.0">0.05</text>
<text x="300.6" y="1251.9">0.00</text>
<text x="300.6" y="1394.8">-0.05</text>
</g>
<g id="xlabels" class="tk" text-anchor="middle">
<text x="464.2" y="1537.3">350</text>
<text x="704.2" y="1537.3">400</text>
<text x="944.3" y="1537.3">450</text>
<text x="1184.3" y="1537.3">500</text>
<text x="1424.4" y="1537.3">550</text>
<text x="1664.5" y="1537.3">600</text>
<text x="1904.5" y="1537.3">650</text>
</g>
<g id="titles" class="big">
<text transform="translate(92.4,746.6) rotate(-90)" text-anchor="middle">Absorbance</text>
<text transform="translate(1108.2,1640.0) scale(1,0.965)" style="font-family:'Noto Serif CJK SC','Liberation Serif',serif;font-size:52.9px">λ</text>
<text class="sym" x="1141.2" y="1639.6">,</text>
<text x="1169.7" y="1640.0" font-size="65.5">nm</text>
<text x="880.2" y="96.9" font-size="65.5">456nm</text>
<text x="1118.6" y="270.2" font-size="65.5">506nm</text>
<text y="85.7"><tspan x="1366.0">Na</tspan><tspan x="1449.2" font-size="38" dy="26.3">3</tspan><tspan x="1469.6" dy="-26.3">[Fe(CN)</tspan><tspan x="1699.9" font-size="38" dy="26.3">5</tspan><tspan x="1720.9" dy="-26.3" style="letter-spacing:-0.75px">pyz] </tspan><tspan x="1856.0">with</tspan></text>
<text x="1365.0" y="188.0">excess cyanide in NaAOT</text>
<text y="266.7"><tspan x="1366.0">RM </tspan><tspan x="1483.8">w</tspan><tspan x="1530.2" font-size="39" dy="26.3">o</tspan><tspan x="1551.1" dy="-26.3">5</tspan></text>
</g>
</svg>
</body></html>
